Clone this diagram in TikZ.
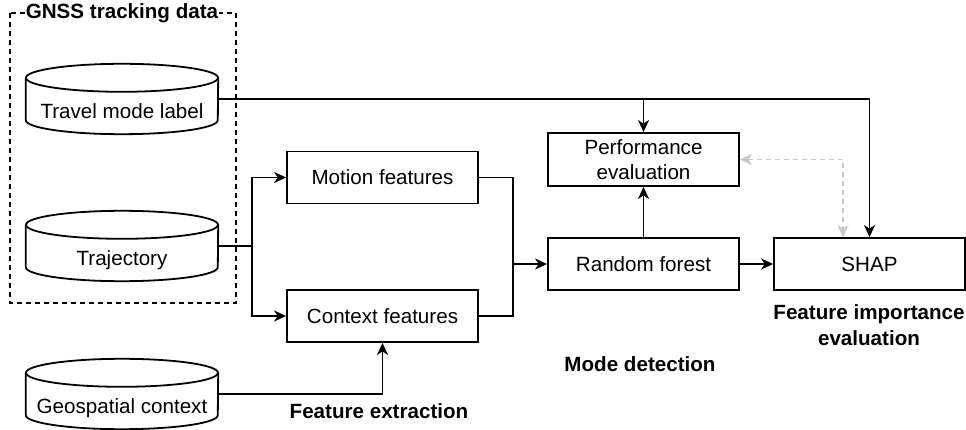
\documentclass[tikz,border=0pt]{standalone}
\usepackage{fontspec}
\setmainfont{Liberation Sans}
\usetikzlibrary{arrows.meta,calc}
\begin{document}
\begin{tikzpicture}[x=1pt,y=-1pt,
  every node/.style={font=\fontsize{20.6}{25.5}\selectfont},
  ln/.style={line width=1.8pt},
  tip/.style={},
  arr/.style={ln,-{Stealth[length=12pt,width=11pt,inset=3.5pt]}},
  box/.style={draw,line width=1.8pt,minimum width=191pt,minimum height=52pt,inner sep=0pt,align=center},
  db/.style={minimum width=192pt,inner xsep=0pt,inner ysep=0pt,text height=54.4pt,text depth=15.6pt},
  lbl/.style={font=\fontsize{20.6}{25.5}\selectfont\bfseries,align=center,inner sep=1pt}]
\useasboundingbox (0,0) rectangle (966,430);
% GNSS group
\draw[ln,dash pattern=on 5pt off 4pt] (10,13) rectangle (236,303);
\node[lbl,fill=white] (gnss) at (122,13) {GNSS tracking data};
% cylinders
\node[db] (tml) at (122,99) {Travel mode label};
\node[db] (traj) at (122,246) {Trajectory};
\node[db] (geo) at (122,394) {Geospatial context};
\foreach \n in {tml,traj,geo}{
  \draw[ln] ($(\n.north west)+(0,14)$) -- ($(\n.south west)+(0,-14)$)
    arc[start angle=180,end angle=360,x radius=96pt,y radius=14pt]
    -- ($(\n.north east)+(0,14)$);
  \draw[ln] ($(\n.north)+(0,14)$) ellipse[x radius=96pt,y radius=14pt];
}
% boxes
\node[box] (mot) at (382.5,177.5) {Motion features};
\node[box] (ctx) at (382.5,316) {Context features};
\node[box,minimum height=53pt] (perf) at (643.5,159.5) {Performance\\evaluation};
\node[box] (rf) at (643.5,264) {Random forest};
\node[box] (shap) at (869.5,264) {SHAP};
% labels
\node[lbl] (fe) at (379,411) {Feature extraction};
\node[lbl] (md) at (640,364) {Mode detection};
\node[lbl] (fie) at (869,325) {Feature importance\\evaluation};
% connectors
\coordinate (split) at (252,246);
\coordinate (merge) at (513,264);
\draw[ln] (traj.east) -- (split);
\draw[arr] (split) |- (mot.west);
\draw[arr] (split) |- (ctx.west);
\draw[ln] (mot.east) -| (merge);
\draw[ln] (ctx.east) -| (merge);
\draw[arr] (merge) -- (rf.west);
\draw[arr] (geo.east) -| (ctx.south);
\draw[arr] (tml.east) -| (shap.north);
\draw[arr] (tml.east -| perf.north) -- (perf.north);
\draw[arr] (rf.north) -- (perf.south);
\draw[arr] (rf.east) -- (shap.west);
\coordinate (g) at ($(shap.north)+(-26.5,0)$);
\draw[line width=1.8pt,color=black!22,dash pattern=on 5pt off 4pt,
  {Stealth[length=12pt,width=11pt,inset=3.5pt]}-{Stealth[length=12pt,width=11pt,inset=3.5pt]}]
  (perf.east) -| (g);
\end{tikzpicture}
\end{document}
